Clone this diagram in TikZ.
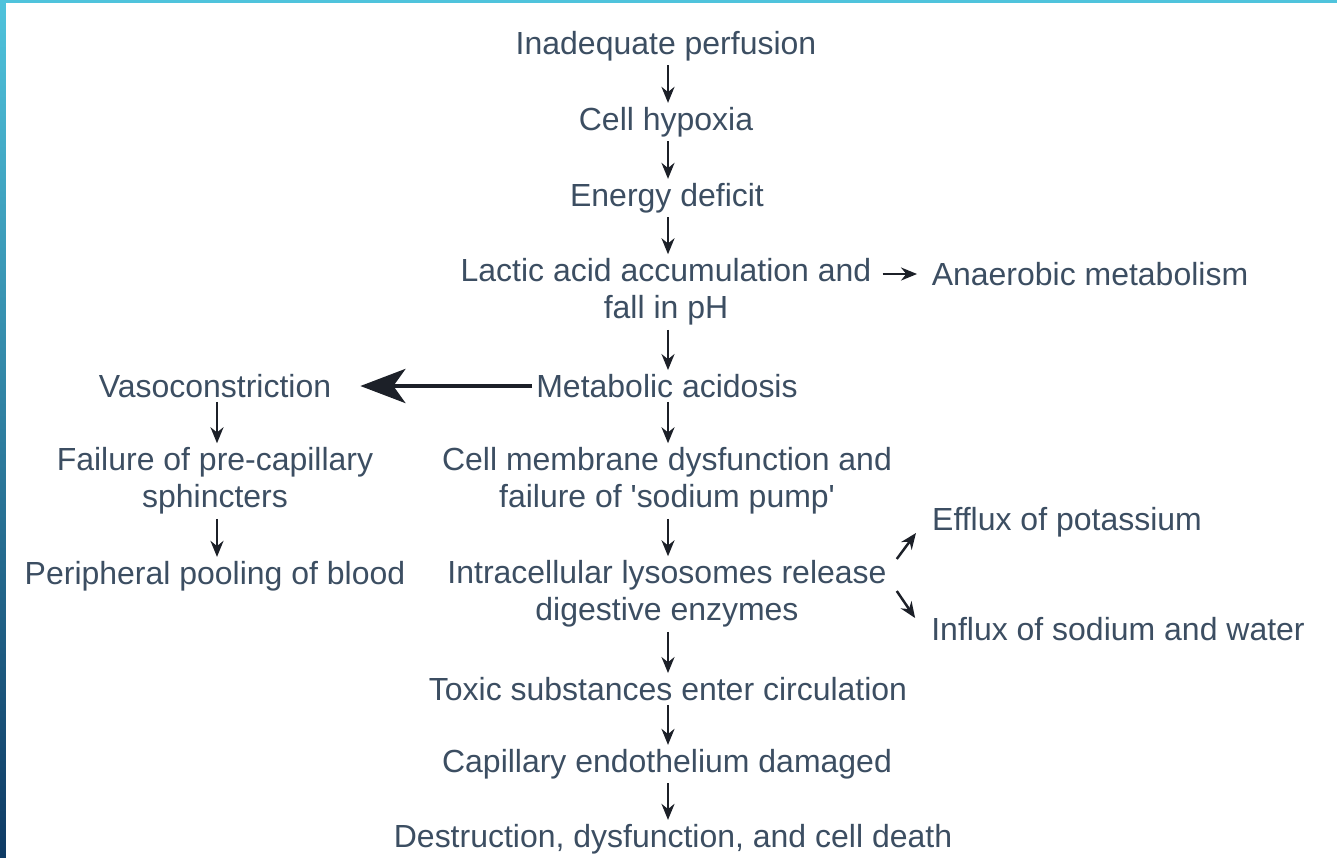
\documentclass[tikz,border=0pt]{standalone}
\usepackage{fontspec}
\setmainfont{Liberation Sans}
\usepackage{xcolor}
\usetikzlibrary{arrows.meta}

\definecolor{textslate}{RGB}{60,78,98}
\definecolor{arrowdark}{RGB}{28,32,40}
\definecolor{bandcyan}{RGB}{79,195,220}
\definecolor{banddark}{RGB}{14,58,100}

\begin{document}
\begin{tikzpicture}[>={Stealth[length=0.16cm,width=0.13cm]},
    box/.style={text=textslate, font=\fontsize{9.1}{10.6}\selectfont, align=center, inner sep=1pt},
    flow/.style={->, arrowdark, line width=0.7pt},
    bigflow/.style={-{Stealth[length=0.45cm,width=0.34cm,inset=0.12cm]}, arrowdark, line width=1.3pt}]

    % =================================================================
    % 1. KHUNG NỀN VÀ CÁC DẢI MÀU VIỀN
    % =================================================================
    \useasboundingbox (0,0) rectangle (13.37,-8.57);
    \fill[white] (0,0) rectangle (13.37,-8.57);

    % Dải màu phía trên
    \fill[bandcyan] (0,0) rectangle (13.37,-0.03);

    % Dải màu bên trái (chuyển màu từ trên xuống)
    \shade[top color=bandcyan, bottom color=banddark] (0,0) rectangle (0.06,-8.57);

    % =================================================================
    % 2. CỘT GIỮA: CHUỖI DIỄN BIẾN CHÍNH
    % =================================================================
    \coordinate (spine) at (6.68,0);

    \node[box] (perf)   at (6.66,-0.46) {Inadequate perfusion};
    \node[box] (hypox)  at (6.66,-1.22) {Cell hypoxia};
    \node[box] (energy) at (6.67,-1.98) {Energy deficit};
    \node[box] (lactic) at (6.66,-2.92) {Lactic acid accumulation and\\fall in pH};
    \node[box] (acid)   at (6.67,-3.86) {Metabolic acidosis};
    \node[box] (membr)  at (6.67,-4.81) {Cell membrane dysfunction and\\failure of \textquotesingle sodium pump\textquotesingle};
    \node[box] (lyso)   at (6.67,-5.94) {Intracellular lysosomes release\\digestive enzymes};
    \node[box] (toxic)  at (6.68,-6.89) {Toxic substances enter circulation};
    \node[box] (capil)  at (6.67,-7.64) {Capillary endothelium damaged};
    \node[box] (death)  at (6.73,-8.39) {Destruction, dysfunction, and cell death};

    % Mũi tên đi xuống giữa các bước
    \draw[flow] (perf.south -| spine)   -- (hypox.north -| spine);
    \draw[flow] (hypox.south -| spine)  -- (energy.north -| spine);
    \draw[flow] (energy.south -| spine) -- (lactic.north -| spine);
    \draw[flow] (lactic.south -| spine) -- (acid.north -| spine);
    \draw[flow] (acid.south -| spine)   -- (membr.north -| spine);
    \draw[flow] (membr.south -| spine)  -- (lyso.north -| spine);
    \draw[flow] (lyso.south -| spine)   -- (toxic.north -| spine);
    \draw[flow] (toxic.south -| spine)  -- (capil.north -| spine);
    \draw[flow] (capil.south -| spine)  -- (death.north -| spine);

    % =================================================================
    % 3. CÁC NHÁNH BÊN PHẢI
    % =================================================================
    \node[box] (anaer)  at (10.90,-2.74) {Anaerobic metabolism};
    \node[box] (efflux) at (10.67,-5.22) {Efflux of potassium};
    \node[box] (influx) at (11.18,-6.29) {Influx of sodium and water};

    \draw[flow, shorten <=2pt, shorten >=3pt] (lactic.east |- anaer.west) -- (anaer.west);
    \draw[flow] ([shift={(0.06,0.35)}]lyso.east) -- ([shift={(-0.12,-0.11)}]efflux.west);
    \draw[flow] ([shift={(0.06,0.03)}]lyso.east) -- ([shift={(-0.12,0.11)}]influx.west);

    % =================================================================
    % 4. NHÁNH BÊN TRÁI: CO MẠCH
    % =================================================================
    \node[box] (vaso)   at (2.15,-3.86) {Vasoconstriction};
    \node[box] (precap) at (2.15,-4.81) {Failure of pre-capillary\\sphincters};
    \node[box] (pool)   at (2.15,-5.76) {Peripheral pooling of blood};

    % Mũi tên lớn từ toan chuyển hóa sang co mạch
    \draw[bigflow, shorten >=0.25cm] (acid) -- (vaso);

    \draw[flow] (vaso.south -| 2.17,0)   -- (precap.north -| 2.17,0);
    \draw[flow] (precap.south -| 2.17,0) -- (pool.north -| 2.17,0);

\end{tikzpicture}
\end{document}
